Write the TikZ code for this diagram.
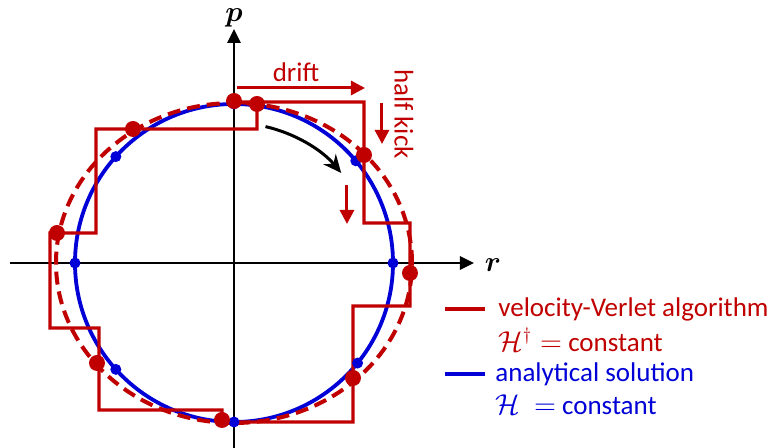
\documentclass[tikz,border=0pt]{standalone}
\usepackage{fontspec}
\setmainfont{Carlito}
\usepackage{amsmath,bm}
\usetikzlibrary{arrows.meta}

\definecolor{vvred}{RGB}{192,0,0}
\definecolor{anblue}{RGB}{0,0,215}

\begin{document}
\begin{tikzpicture}[x=0.5pt, y=0.5pt,
  axis/.style={line width=1.4pt, -{Triangle[length=7pt,width=6.5pt]}},
  stair/.style={vvred, line width=1.7pt},
  exact/.style={anblue, line width=1.9pt},
  shadow/.style={vvred, line width=2pt, dash pattern=on 6.5pt off 3.5pt},
  reddot/.style={circle, fill=vvred, inner sep=0pt, minimum size=8pt},
  bluedot/.style={circle, fill=anblue, inner sep=0pt, minimum size=5.5pt},
  hint/.style={vvred, line width=1.5pt, -{Triangle[length=7pt,width=7pt]}},
  lbl/.style={font=\fontsize{13.5}{16}\selectfont, inner sep=0pt},
  >=Stealth]
\useasboundingbox (-234,-185) rectangle (539,263);

% axes
\coordinate (rlo) at (-224,0);
\coordinate (rhi) at (240,0);
\coordinate (plo) at (0,-185);
\coordinate (phi) at (0,234);
\draw[axis] (rlo) -- (rhi);
\draw[axis] (plo) -- (phi);
\node[font=\Large, anchor=north, inner sep=0pt] (plbl) at (0,255) {$\bm{p}$};
\node[font=\Large] (rlbl) at (259,-2) {$\bm{r}$};

% exact orbit and shadow orbit
\draw[exact] (0,0) circle[radius=159];
\draw[shadow] (0,0) ellipse[x radius=178, y radius=160];

% velocity-Verlet staircase
\draw[stair] (0,161) -- (130,161) -- (130,40) -- (176,40) -- (176,-43)
  -- (119,-43) -- (119,-159) -- (-12,-159) -- (-12,-147) -- (-135,-147)
  -- (-135,-65) -- (-184,-65) -- (-184,30) -- (-138,30) -- (-138,134)
  -- (23,134) -- (23,159) -- cycle;

% sample points
\foreach \a/\n in {90/1, 40/2, 0/3, -39/4, -90/5, -138/6, 180/7, 138/8}
  \node[bluedot] (b\n) at (\a:159) {};
\foreach \x/\y/\n in {0/162/1, 23/159/2, 130/108/3, 176/-10/4, 119/-115/5,
                      -12/-157/6, -137/-100/7, -177/30/8, -101/134/9}
  \node[reddot] (v\n) at (\x,\y) {};

% annotations
\draw[line width=1.5pt, -{Stealth[length=9pt,width=8pt]}]
  (77:140) arc[start angle=77, end angle=40, radius=140];
\coordinate (d0) at (3,175);
\coordinate (d1) at (131,175);
\draw[hint] (d0) -- (d1);
\node[lbl, text=vvred] (drift) at (62,191) {drift};
\coordinate (k0) at (148,160);
\coordinate (k1) at (148,119);
\draw[hint] (k0) -- (k1);
\node[lbl, text=vvred, rotate=-90] (kick) at (170,149) {half kick};
\coordinate (k2) at (113,78);
\coordinate (k3) at (113,39);
\draw[hint] (k2) -- (k3);

% legend
\node[lbl, text=vvred, anchor=west] (leg1) at (264,-46) {velocity-Verlet algorithm};
\node[lbl, text=vvred, anchor=west] (leg2) at (264,-77) {$\mathcal{H}^{\dagger} =$ constant};
\node[lbl, text=anblue, anchor=west] (leg3) at (261,-111) {analytical solution};
\node[lbl, text=anblue, anchor=west] (leg4) at (261,-142) {$\mathcal{H}\ =$ constant};
\draw[stair, line width=2pt] (211,-46) -- (251,-46);
\draw[exact, line width=2pt] (211,-111) -- (251,-111);
\end{tikzpicture}
\end{document}
